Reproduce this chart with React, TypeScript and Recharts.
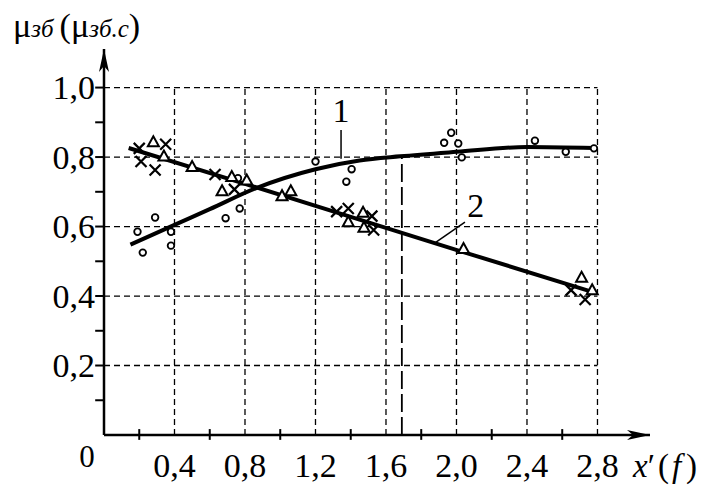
import { ComposedChart, XAxis, YAxis, Line, Scatter, ReferenceLine, ReferenceDot } from 'recharts';

const FONT = 'Liberation Serif';

const X_MAX = 3.098;
const Y_MAX = 1.111;

const xTicks = [0.4, 0.8, 1.2, 1.6, 2.0, 2.4, 2.8];
const xMinorTicks = [0.2, 0.6, 1.0, 1.4, 1.8, 2.2, 2.6];
const yTicks = [0.2, 0.4, 0.6, 0.8, 1.0];
const yMinorTicks = [0.1, 0.2, 0.3, 0.4, 0.5, 0.6, 0.7, 0.8, 0.9, 1.0];

// curve 1 (rising, levels off)
const curve1X = [0.15, 0.4, 0.6, 0.86, 1.2, 1.45, 1.68, 2.0, 2.4, 2.78];
const curve1Y = [0.548, 0.605, 0.65, 0.71, 0.765, 0.79, 0.802, 0.815, 0.829, 0.826];

// curve 2 (falling, near straight)
const curve2X = [0.14, 0.805, 1.45, 2.03, 2.77];
const curve2Y = [0.826, 0.722, 0.62, 0.528, 0.412];

const circleX = [0.19, 0.22, 0.29, 0.38, 0.38, 0.69, 0.77, 0.76, 1.2, 1.405, 1.375, 1.93, 1.97, 2.01, 2.03, 2.445, 2.62, 2.78];
const circleY = [0.585, 0.525, 0.626, 0.585, 0.545, 0.624, 0.652, 0.739, 0.787, 0.765, 0.729, 0.841, 0.87, 0.839, 0.799, 0.847, 0.815, 0.825];

const triX = [0.28, 0.34, 0.5, 0.725, 0.67, 0.81, 1.01, 1.06, 1.386, 1.47, 1.475, 2.04, 2.71, 2.77];
const triY = [0.841, 0.8, 0.77, 0.741, 0.7, 0.731, 0.686, 0.7, 0.611, 0.638, 0.595, 0.534, 0.451, 0.415];

const crossX = [0.2, 0.21, 0.35, 0.29, 0.63, 0.74, 1.32, 1.386, 1.52, 1.53, 2.65, 2.73];
const crossY = [0.825, 0.787, 0.837, 0.763, 0.75, 0.707, 0.643, 0.652, 0.63, 0.59, 0.417, 0.39];

const zip = (xs: number[], ys: number[]) => xs.map((x, i) => ({ x, y: ys[i] }));

const fmt = (v: number) => v.toFixed(1).replace('.', ',');

function XTick({ x, y, payload }: any) {
  return (
    <text x={x} y={y + 42} textAnchor="middle" fontFamily={FONT} fontSize={34} fill="#000">
      {fmt(payload.value)}
    </text>
  );
}

function YTick({ x, y, payload }: any) {
  return (
    <text x={x - 9} y={y} dy="0.35em" textAnchor="end" fontFamily={FONT} fontSize={34} fill="#000">
      {fmt(payload.value)}
    </text>
  );
}

const circleShape = (p: any) => (
  <circle cx={p.cx} cy={p.cy} r={3.3} fill="#fff" stroke="#000" strokeWidth={1.8} />
);

const triShape = (p: any) => (
  <polygon
    points={`${p.cx},${p.cy - 6.5} ${p.cx - 5.5},${p.cy + 3.5} ${p.cx + 5.5},${p.cy + 3.5}`}
    fill="#fff"
    stroke="#000"
    strokeWidth={2}
  />
);

const crossShape = (p: any) => (
  <path
    d={`M${p.cx - 5.5},${p.cy - 5.5}L${p.cx + 5.5},${p.cy + 5.5}M${p.cx + 5.5},${p.cy - 5.5}L${p.cx - 5.5},${p.cy + 5.5}`}
    stroke="#000"
    strokeWidth={2.2}
  />
);

const grid = { stroke: '#000', strokeWidth: 1.3, strokeDasharray: '6 4' };

export default function App() {
  return (
    <div style={{ position: 'absolute', left: 0, top: 0, width: 718, height: 486, background: '#fff' }}>
      <ComposedChart width={718} height={486} margin={{ top: 49, right: 68, bottom: 0, left: 40 }}>
        <XAxis
          dataKey="x"
          type="number"
          domain={[0, X_MAX]}
          allowDataOverflow
          ticks={xTicks}
          tick={<XTick />}
          tickLine={false}
          tickSize={0}
          tickMargin={0}
          height={51}
          axisLine={{ stroke: '#000', strokeWidth: 2.5 }}
        />
        <YAxis
          type="number"
          domain={[0, Y_MAX]}
          allowDataOverflow
          ticks={yTicks}
          tick={<YTick />}
          tickLine={false}
          tickSize={0}
          tickMargin={0}
          width={64}
          axisLine={{ stroke: '#000', strokeWidth: 2.5 }}
        />

        {yTicks.map((v) => (
          <ReferenceLine key={'h' + v} segment={[{ x: 0, y: v }, { x: 2.8, y: v }]} {...grid} ifOverflow="visible" />
        ))}
        {xTicks.map((v) => (
          <ReferenceLine key={'v' + v} segment={[{ x: v, y: 0 }, { x: v, y: 1.0 }]} {...grid} ifOverflow="visible" />
        ))}
        {xMinorTicks.map((v) => (
          <ReferenceLine key={'xt' + v} segment={[{ x: v, y: -0.014 }, { x: v, y: 0.017 }]} stroke="#000" strokeWidth={2} ifOverflow="visible" />
        ))}
        {yMinorTicks.map((v) => (
          <ReferenceLine key={'yt' + v} segment={[{ x: -0.05, y: v }, { x: 0, y: v }]} stroke="#000" strokeWidth={2} ifOverflow="visible" />
        ))}

        <ReferenceLine segment={[{ x: 1.69, y: 0 }, { x: 1.69, y: 0.8 }]} stroke="#000" strokeWidth={1.8} strokeDasharray="18 5" ifOverflow="visible" />

        <Line data={zip(curve1X, curve1Y)} dataKey="y" type="monotone" stroke="#000" strokeWidth={4} dot={false} isAnimationActive={false} />
        <Line data={zip(curve2X, curve2Y)} dataKey="y" type="linear" stroke="#000" strokeWidth={4} dot={false} isAnimationActive={false} />

        <Scatter data={zip(circleX, circleY)} dataKey="y" shape={circleShape} isAnimationActive={false} />
        <Scatter data={zip(triX, triY)} dataKey="y" shape={triShape} isAnimationActive={false} />
        <Scatter data={zip(crossX, crossY)} dataKey="y" shape={crossShape} isAnimationActive={false} />

        {/* curve labels with leader lines */}
        <ReferenceLine segment={[{ x: 1.345, y: 0.878 }, { x: 1.345, y: 0.795 }]} stroke="#000" strokeWidth={1.5} ifOverflow="visible" />
        <ReferenceLine segment={[{ x: 2.048, y: 0.613 }, { x: 1.878, y: 0.553 }]} stroke="#000" strokeWidth={1.5} ifOverflow="visible" />
        <ReferenceDot
          x={1.345}
          y={0.9}
          ifOverflow="visible"
          shape={(p: any) => (
            <text x={p.cx} y={p.cy} textAnchor="middle" fontFamily={FONT} fontSize={34} fill="#000">1</text>
          )}
        />
        <ReferenceDot
          x={2.11}
          y={0.627}
          ifOverflow="visible"
          shape={(p: any) => (
            <text x={p.cx} y={p.cy} textAnchor="middle" fontFamily={FONT} fontSize={34} fill="#000">2</text>
          )}
        />

        {/* origin label */}
        <ReferenceDot
          x={0}
          y={0}
          ifOverflow="visible"
          shape={(p: any) => (
            <text x={p.cx - 17} y={p.cy + 32} textAnchor="middle" fontFamily={FONT} fontSize={31} fill="#000">0</text>
          )}
        />

        {/* axis arrows and titles */}
        <ReferenceDot
          x={X_MAX}
          y={0}
          ifOverflow="visible"
          shape={(p: any) => (
            <g>
              <polygon points={`${p.cx},${p.cy} ${p.cx - 23},${p.cy - 5} ${p.cx - 17},${p.cy} ${p.cx - 23},${p.cy + 5}`} fill="#000" />
              <text x={p.cx - 17} y={p.cy + 42} fontFamily={FONT} fontSize={33} fill="#000">
                <tspan fontStyle="italic">x</tspan>
                <tspan>′</tspan>
                <tspan dx={3}>(</tspan>
                <tspan dx={3} fontStyle="italic">f</tspan>
                <tspan dx={5}>)</tspan>
              </text>
            </g>
          )}
        />
        <ReferenceDot
          x={0}
          y={Y_MAX}
          ifOverflow="visible"
          shape={(p: any) => (
            <g>
              <polygon points={`${p.cx},${p.cy} ${p.cx - 5},${p.cy + 23} ${p.cx},${p.cy + 17} ${p.cx + 5},${p.cy + 23}`} fill="#000" />
              <text x={p.cx - 91} y={p.cy - 12} fontFamily={FONT} fontSize={34} fill="#000">
                <tspan>μ</tspan>
                <tspan fontStyle="italic" fontSize={25}>зб</tspan>
                <tspan dx={6}>(μ</tspan>
                <tspan fontStyle="italic" fontSize={25}>зб.с</tspan>
                <tspan>)</tspan>
              </text>
            </g>
          )}
        />
      </ComposedChart>
    </div>
  );
}
